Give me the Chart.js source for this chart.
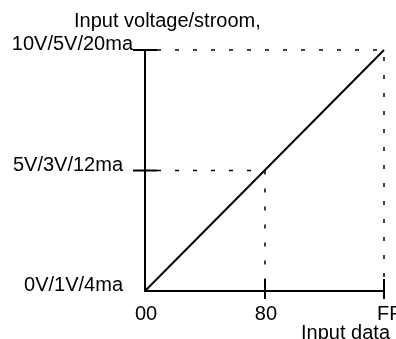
<!DOCTYPE html>
<html>
<head>
<meta charset="utf-8">
<script src="https://cdn.jsdelivr.net/npm/chart.js@4/dist/chart.umd.min.js"></script>
<style>
  html, body { margin: 0; padding: 0; background: #fff; overflow: hidden; }
  #wrap { width: 396px; height: 339px; position: relative; }
</style>
</head>
<body>
<div id="wrap"><canvas id="dac"></canvas></div>
<script>
// input code (hex 00..FF) against output level (0..10 on the 10V range)
const inputCodes = [0, 255];
const outputLevels = [0, 10];

// tick positions and their labels
const xTicks = [0, 128, 255];
const xTickLabels = ['00', '80', 'FF'];
const yTicks = [0, 5, 10];
const yTickLabels = ['0V/1V/4ma', '5V/3V/12ma', '10V/5V/20ma'];

// dashed guides from the mid and full-scale points back to the axes
const midGuideX = [0, 128, 128];
const midGuideY = [5, 5, 0];
const fullGuideX = [0, 255, 255];
const fullGuideY = [10, 10, 0];

const yTitle = 'Input voltage/stroom,';
const xTitle = 'Input data';

const FONT = '20px "Liberation Sans", Arial, sans-serif';

function pts(xs, ys) {
    return xs.map((x, i) => ({ x: x, y: ys[i] }));
}

// axes, crossing tick marks and all text are drawn by hand
const axesPlugin = {
    id: 'axesPlugin',
    afterDatasetsDraw(chart) {
        const ctx = chart.ctx;
        const sx = chart.scales.x;
        const sy = chart.scales.y;
        const x0 = sx.getPixelForValue(0);
        const y0 = sy.getPixelForValue(0);
        const xEnd = sx.getPixelForValue(255);
        const yTop = sy.getPixelForValue(10);

        ctx.save();
        ctx.strokeStyle = '#000';
        ctx.lineWidth = 2;
        ctx.beginPath();
        ctx.moveTo(x0, yTop);
        ctx.lineTo(x0, y0);
        ctx.lineTo(xEnd + 1, y0);
        ctx.stroke();

        ctx.fillStyle = '#000';
        ctx.font = FONT;

        // y ticks cross the axis
        yTicks.forEach((v, i) => {
            const py = sy.getPixelForValue(v);
            if (v !== 0) {
                ctx.beginPath();
                ctx.moveTo(x0 - 12, py);
                ctx.lineTo(x0 + 12, py);
                ctx.stroke();
            }
            const gap = i === yTicks.length - 1 ? 0 : 10;
            ctx.textAlign = 'right';
            ctx.textBaseline = 'alphabetic';
            ctx.fillText(yTickLabels[i], x0 - 12 - gap, py);
        });

        // x ticks
        xTicks.forEach((v, i) => {
            const px = sx.getPixelForValue(v);
            if (v !== 0) {
                ctx.beginPath();
                ctx.moveTo(px, y0 - 12);
                ctx.lineTo(px, y0 + 8);
                ctx.stroke();
            }
            ctx.textBaseline = 'alphabetic';
            if (i === xTicks.length - 1) {
                ctx.textAlign = 'left';
                ctx.fillText(xTickLabels[i], px - 7, y0 + 29);
            } else {
                ctx.textAlign = 'center';
                ctx.fillText(xTickLabels[i], px + 1, y0 + 29);
            }
        });

        ctx.textAlign = 'left';
        ctx.fillText(yTitle, 74, 27);
        ctx.textAlign = 'right';
        ctx.fillText(xTitle, xEnd + 6, y0 + 48);
        ctx.restore();
    }
};

new Chart(document.getElementById('dac'), {
    type: 'scatter',
    data: {
        datasets: [
            {
                label: 'output',
                data: pts(inputCodes, outputLevels),
                showLine: true,
                borderColor: '#000',
                borderWidth: 2,
                pointRadius: 0,
                clip: false
            },
            {
                label: 'mid',
                data: pts(midGuideX, midGuideY),
                showLine: true,
                borderColor: '#000',
                borderWidth: 1.5,
                borderDash: [4, 14],
                borderDashOffset: -12,
                pointRadius: 0,
                clip: false
            },
            {
                label: 'full',
                data: pts(fullGuideX, fullGuideY),
                showLine: true,
                borderColor: '#000',
                borderWidth: 1.5,
                borderDash: [4, 14],
                borderDashOffset: -12,
                pointRadius: 0,
                clip: false
            }
        ]
    },
    options: {
        responsive: true,
        maintainAspectRatio: false,
        animation: false,
        layout: { padding: { left: 145, right: 12, top: 50, bottom: 48 } },
        scales: {
            x: { type: 'linear', min: 0, max: 255, display: false },
            y: { type: 'linear', min: 0, max: 10, display: false }
        },
        plugins: {
            legend: { display: false },
            tooltip: { enabled: false }
        }
    },
    plugins: [axesPlugin]
});
</script>
</body>
</html>
